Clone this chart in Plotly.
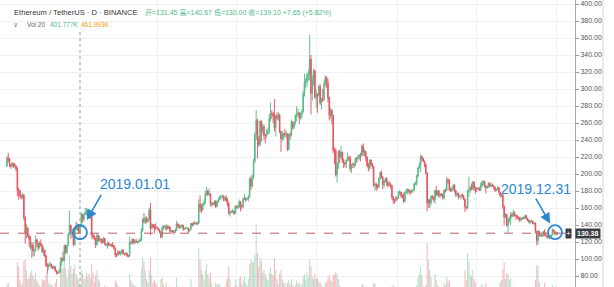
import pandas as pd
import plotly.graph_objects as go

# ---------------- data (ETH/USDT daily, Binance) ----------------
start_date = "2018-11-06"
first_open = 209.5

close = [
    # 2018-11 (6..30)
    218.6, 217.8, 211.6, 209.1, 212.6, 211.1, 209.5, 206.0, 181.0, 180.5, 174.5, 172.4, 175.3, 149.0, 131.0, 136.3, 126.4, 123.2, 113.5, 116.5, 109.5, 110.0, 122.5, 118.5, 113.5,
    # 2018-12
    118.5, 116.5, 108.5, 110.5, 103.5, 92.0, 91.0, 92.5, 93.5, 91.0, 89.0, 91.0, 86.5, 84.0, 84.0, 85.5, 96.5, 101.0, 98.5, 115.5, 108.0, 116.0, 129.0, 140.0, 130.0, 131.0, 117.0, 137.0, 135.0, 140.5, 131.45,
    # 2019-01
    139.10, 152.5, 146.9, 153.0, 154.9, 155.6, 150.9, 150.4, 150.7, 128.3, 127.0, 124.5, 116.5, 127.8, 121.4, 123.7, 122.6, 119.2, 124.0, 117.8, 116.6, 118.0, 116.2, 117.4, 115.9, 115.8, 113.0, 105.0, 104.4, 108.4, 106.1,
    # 2019-02
    107.1, 110.7, 106.2, 105.9, 106.3, 104.0, 103.3, 119.4, 118.6, 123.2, 119.0, 121.3, 120.5, 120.1, 120.7, 122.2, 133.5, 146.5, 144.2, 148.0, 144.0, 146.4, 157.3, 136.5, 140.7, 137.6, 137.3, 136.1,
    # 2019-03
    136.6, 134.7, 131.7, 125.8, 137.2, 137.5, 138.0, 135.3, 138.5, 137.4, 132.4, 133.3, 131.5, 131.5, 134.0, 141.4, 138.1, 137.0, 138.9, 139.8, 135.5, 136.0, 136.1, 136.5, 133.0, 134.6, 141.8, 140.1, 142.4, 142.3, 141.5,
    # 2019-04
    142.1, 164.3, 161.3, 157.4, 164.2, 166.1, 176.8, 180.1, 175.9, 176.5, 164.8, 165.4, 164.3, 167.9, 161.7, 167.7, 169.6, 173.1, 173.1, 173.6, 170.2, 171.8, 168.5, 164.7, 153.8, 155.0, 155.1, 156.5, 153.6, 162.3,
    # 2019-05
    160.3, 161.3, 167.5, 162.5, 161.8, 170.6, 172.1, 170.1, 170.6, 173.2, 194.0, 186.0, 195.6, 215.4, 246.7, 263.0, 241.8, 234.6, 262.2, 251.0, 255.6, 245.3, 245.3, 248.2, 250.6, 264.9, 271.2, 270.6, 268.3, 254.6, 268.4,
    # 2019-06
    265.7, 269.0, 249.8, 241.4, 246.3, 247.3, 245.9, 246.9, 229.1, 246.5, 245.9, 260.9, 255.1, 260.5, 269.1, 269.8, 272.0, 266.4, 270.5, 273.1, 294.6, 307.8, 308.8, 317.3, 317.7, 335.0, 295.0, 311.0, 321.3, 290.2,
    # 2019-07
    293.9, 292.6, 302.9, 283.6, 288.3, 287.3, 306.5, 313.8, 306.9, 289.6, 268.9, 275.4, 268.8, 228.0, 227.4, 199.1, 211.0, 226.5, 220.0, 225.9, 216.4, 212.9, 211.7, 216.5, 219.2, 219.0, 206.3, 211.3, 211.4, 210.4, 218.4,
    # 2019-08
    218.0, 219.3, 222.3, 222.2, 232.6, 225.6, 226.8, 219.7, 209.8, 206.5, 216.6, 211.4, 208.7, 187.2, 187.8, 184.9, 184.4, 194.8, 201.9, 196.6, 187.3, 191.9, 194.5, 190.3, 186.4, 187.7, 186.4, 173.1, 169.2, 168.9, 172.1,
    # 2019-09
    171.8, 178.5, 178.8, 174.6, 173.7, 168.0, 177.9, 180.8, 181.1, 180.0, 178.4, 180.0, 180.6, 188.4, 189.4, 197.5, 207.4, 210.3, 220.3, 218.0, 215.0, 211.5, 200.9, 165.8, 169.8, 166.1, 173.8, 173.5, 169.6, 180.7,
    # 2019-10
    175.5, 180.1, 174.3, 176.6, 176.1, 171.8, 180.9, 180.7, 193.2, 191.6, 181.6, 180.4, 183.0, 186.8, 180.3, 175.3, 177.4, 172.9, 174.0, 175.1, 173.9, 170.3, 161.3, 160.3, 180.0, 180.5, 184.2, 182.7, 190.6, 184.0, 182.6,
    # 2019-11
    182.6, 183.5, 181.2, 185.9, 189.2, 191.1, 186.0, 183.6, 185.5, 189.3, 186.0, 187.1, 186.4, 184.5, 180.4, 182.1, 184.0, 178.4, 174.7, 175.6, 161.9, 149.3, 152.4, 139.5, 146.5, 146.9, 152.2, 150.3, 154.1, 151.4,
    # 2019-12
    150.7, 149.0, 147.2, 145.7, 148.1, 148.6, 147.8, 151.0, 147.8, 145.8, 143.5, 144.8, 144.8, 141.5, 142.2, 132.7, 121.9, 132.5, 128.1, 128.2, 127.1, 132.3, 127.8, 127.8, 125.2, 125.8, 126.3, 128.1, 134.4, 131.5, 129.2,
    # 2020-01 (1..2)
    130.8, 130.38,
]

high = [
    221, 225, 219, 212, 214, 213, 213, 210, 208, 184, 181, 175, 178, 176, 150, 141, 138, 129, 127, 120, 120, 112, 128, 124, 119,
    121, 123, 117, 114, 111, 105, 95, 95, 97, 95, 92, 93, 91, 87, 85, 88, 102, 102, 109, 117, 117, 117, 131, 157, 140, 136, 134, 138, 144, 142, 141,
    140.67, 155, 153, 154, 160, 160, 158, 156, 155, 152, 130, 128, 125, 130, 129, 127, 124, 124, 126, 125, 118, 121, 120, 119, 117, 120, 117, 113, 107, 111, 110,
    109, 112, 111, 107, 108, 108, 105, 126, 121, 124, 124, 123, 124, 121, 123, 125, 136, 148, 154, 150, 150, 148, 160, 166, 142, 141, 141, 142,
    139, 137, 135, 133, 139, 140, 140, 141, 140, 139, 138, 134, 134, 134, 136, 145, 142, 141, 140, 141, 140, 137, 138, 137, 137, 135, 142, 142, 144, 144, 143,
    144, 170, 175, 165, 166, 170, 180, 185, 181, 183, 177, 167, 167, 169, 169, 169, 172, 175, 175, 176, 175, 174, 175, 172, 167, 158, 157, 159, 157, 163,
    163, 164, 170, 168, 164, 172, 177, 172, 172, 175, 196, 198, 199, 218, 249, 275, 265, 245, 263, 263, 259, 258, 247, 253, 255, 271, 284, 275, 273, 288, 270,
    272, 273, 271, 251, 251, 249, 253, 251, 248, 248, 249, 264, 262, 262, 270, 280, 277, 273, 272, 276, 298, 318, 313, 319, 323, 364, 340, 316, 324, 323,
    300, 295, 305, 306, 290, 300, 311, 316, 315, 312, 291, 278, 276, 270, 231, 230, 214, 228, 228, 233, 226, 218, 214, 217, 225, 221, 222, 212, 214, 213, 219,
    220, 223, 223, 225, 235, 236, 229, 227, 221, 213, 217, 217, 213, 209, 190, 190, 188, 196, 203, 204, 197, 193, 196, 196, 191, 192, 190, 187, 174, 171, 174,
    173, 180, 181, 179, 176, 178, 179, 183, 183, 183, 181, 182, 182, 189, 191, 199, 208, 214, 223, 222, 219, 216, 212, 202, 171, 170, 175, 175, 174, 181,
    186, 181, 181, 177, 177, 177, 182, 183, 197, 195, 194, 184, 185, 188, 188, 181, 178, 178, 175, 176, 177, 176, 171, 162, 182, 197, 186, 189, 192, 191, 185,
    184, 185, 184, 190, 192, 193, 192, 187, 186, 190, 190, 188, 189, 187, 185, 183, 186, 184, 179, 177, 176, 163, 154, 153, 149, 150, 155, 155, 158, 156,
    152, 152, 150, 150, 149, 149, 150, 152, 152, 148, 146, 146, 146, 145, 143, 143, 133, 134, 133, 129, 129, 133, 135, 130, 128, 128, 127, 129, 136, 134, 133,
    132, 131.5,
]

low = [
    208, 214, 208, 206, 208, 207, 208, 203, 174, 170, 172, 170, 171, 146, 118, 124, 126, 115, 111, 101, 103, 103, 109, 114, 110,
    112, 115, 107, 104, 102, 91, 83, 87, 91, 89, 88, 88, 85, 82, 82, 83, 84, 92, 97, 98, 106, 106, 116, 128, 124, 125, 115, 116, 134, 133, 130,
    130.00, 137, 143, 144, 152, 151, 149, 148, 147, 124, 123, 122, 113, 116, 120, 121, 118, 118, 119, 116, 115, 112, 115, 115, 114, 114, 111, 102, 102, 104, 105,
    104, 106, 105, 104, 105, 102, 102, 103, 117, 117, 118, 117, 119, 118, 119, 120, 121, 132, 142, 141, 142, 143, 145, 128, 135, 136, 130, 134,
    135, 133, 130, 124, 125, 134, 136, 133, 135, 135, 131, 131, 130, 129, 131, 133, 137, 135, 136, 137, 133, 134, 135, 135, 131, 132, 134, 138, 139, 141, 140,
    140, 141, 155, 154, 157, 162, 165, 174, 174, 174, 162, 161, 163, 163, 160, 161, 166, 169, 170, 172, 168, 168, 167, 162, 152, 150, 154, 154, 152, 153,
    159, 159, 160, 156, 159, 160, 169, 167, 169, 168, 172, 181, 184, 194, 213, 240, 218, 232, 233, 238, 247, 240, 236, 242, 246, 247, 262, 265, 260, 250, 244,
    263, 263, 248, 226, 238, 240, 243, 242, 227, 228, 240, 244, 252, 253, 258, 262, 267, 259, 264, 265, 272, 291, 301, 303, 310, 310, 270, 286, 304, 288,
    278, 272, 291, 281, 276, 285, 286, 303, 301, 284, 263, 265, 259, 225, 212, 197, 190, 206, 213, 218, 213, 207, 208, 207, 215, 215, 203, 201, 207, 207, 209,
    213, 215, 217, 215, 221, 221, 221, 215, 208, 203, 205, 209, 206, 185, 181, 180, 182, 184, 193, 195, 182, 184, 190, 186, 184, 186, 183, 170, 165, 165, 167,
    169, 171, 175, 172, 171, 166, 167, 177, 176, 177, 175, 177, 178, 180, 187, 186, 196, 206, 202, 215, 214, 208, 200, 156, 160, 160, 163, 170, 167, 165,
    174, 174, 172, 172, 174, 170, 170, 178, 180, 188, 180, 179, 179, 181, 178, 173, 174, 170, 172, 170, 172, 169, 155, 158, 159, 173, 178, 181, 181, 180, 177,
    179, 181, 180, 180, 184, 187, 184, 177, 183, 184, 184, 184, 185, 182, 179, 180, 181, 176, 172, 173, 159, 140, 148, 138, 131, 143, 140, 149, 150, 150,
    146, 147, 146, 143, 145, 146, 147, 147, 146, 144, 142, 141, 143, 141, 140, 130, 116, 117, 126, 126, 126, 127, 127, 126, 124, 124, 123, 126, 128, 130, 128,
    128, 128.5,
]

# daily volume, thousands of ETH
volume = [
    520, 560, 480, 420, 380, 400, 430, 460, 880, 820, 600, 520, 560, 900, 930, 760, 620, 640, 720, 760, 680, 620, 720, 600, 560,
    520, 500, 620, 600, 600, 700, 720, 560, 520, 540, 500, 480, 560, 620, 480, 500, 820, 760, 800, 960, 800, 640, 760, 1000, 820, 700, 780, 860, 700, 640, 600,
    401.777, 760, 700, 620, 640, 720, 660, 700, 640, 860, 720, 560, 680, 760, 620, 580, 480, 460, 440, 520, 470, 500, 460, 440, 420, 400, 440, 600, 560, 520, 500,
    480, 440, 440, 400, 380, 440, 420, 700, 600, 560, 520, 520, 500, 460, 440, 460, 780, 960, 900, 760, 620, 560, 760, 960, 680, 560, 600, 560,
    520, 460, 440, 620, 640, 540, 500, 560, 480, 440, 500, 460, 440, 460, 480, 640, 500, 480, 460, 480, 500, 440, 400, 380, 480, 460, 620, 500, 480, 440, 420,
    480, 1110, 920, 760, 700, 620, 760, 860, 700, 640, 720, 560, 440, 440, 560, 540, 520, 540, 460, 420, 460, 500, 580, 640, 820, 620, 460, 460, 500, 620,
    520, 480, 640, 660, 520, 600, 660, 560, 520, 620, 860, 920, 880, 900, 1000, 1480, 1030, 820, 960, 900, 720, 760, 700, 640, 600, 720, 800, 700, 680, 950, 760,
    620, 540, 700, 760, 620, 560, 560, 480, 560, 600, 540, 620, 520, 500, 520, 600, 540, 560, 500, 540, 660, 700, 600, 730, 640, 920, 810, 660, 620, 700,
    620, 640, 580, 560, 520, 480, 500, 560, 580, 640, 680, 600, 580, 700, 680, 730, 700, 620, 520, 480, 460, 470, 440, 450, 440, 400, 480, 440, 420, 410, 460,
    440, 440, 420, 450, 540, 520, 460, 440, 470, 430, 400, 400, 430, 560, 540, 480, 380, 400, 450, 420, 470, 430, 400, 360, 360, 390, 400, 500, 520, 420, 380,
    340, 420, 440, 400, 380, 480, 420, 380, 380, 380, 380, 360, 350, 480, 400, 520, 650, 700, 810, 680, 500, 460, 520, 1190, 920, 760, 650, 480, 500, 700,
    600, 520, 500, 440, 360, 400, 560, 520, 650, 580, 600, 420, 400, 460, 460, 480, 400, 460, 360, 360, 400, 480, 760, 600, 1030, 900, 700, 660, 760, 620, 560,
    460, 400, 400, 500, 540, 480, 480, 560, 380, 420, 420, 420, 400, 420, 460, 340, 360, 460, 560, 600, 780, 890, 620, 710, 700, 600, 640, 480, 500, 420,
    440, 400, 420, 440, 420, 400, 360, 380, 420, 400, 420, 400, 380, 380, 360, 600, 840, 820, 560, 460, 380, 420, 560, 460, 420, 400, 460, 400, 520, 480, 500,
    420, 400,
]

header_title = "Ethereum / TetherUS · D · BINANCE"
vol_ma_label = "461.993K"
marked_days = ["2019-01-01", "2019-12-31"]
marked_labels = ["2019.01.01", "2019.12.31"]
price_ticks = list(range(80, 401, 20))

# ---------------- build ----------------
n = len(close)
assert len(high) == n and len(low) == n and len(volume) == n, (n, len(high), len(low), len(volume))
dates = pd.date_range(start=start_date, periods=n, freq="D")
opens = [first_open] + close[:-1]
df = pd.DataFrame({"open": opens, "high": high, "low": low, "close": close, "vol": volume}, index=dates)

UP = "#53b987"
DN = "#eb4d5c"
BLUE = "#2b87d3"
FONT = "Liberation Sans, Arial, Noto Sans CJK SC, sans-serif"

vol_colors = ["rgba(83,185,135,0.45)" if c >= o else "rgba(235,77,92,0.42)"
              for o, c in zip(df["open"], df["close"])]

fig = go.Figure()
fig.add_trace(go.Bar(x=dates, y=df["vol"], marker_color=vol_colors, marker_line_width=0,
                     yaxis="y2", hoverinfo="skip", showlegend=False))
fig.add_trace(go.Candlestick(
    x=dates, open=df["open"], high=df["high"], low=df["low"], close=df["close"],
    increasing=dict(line=dict(color=UP, width=0.9), fillcolor=UP),
    decreasing=dict(line=dict(color=DN, width=0.9), fillcolor=DN),
    whiskerwidth=0, showlegend=False))

W, H = 614, 287
PLOT_W = 575
x_range = ["2018-10-31 16:48", "2020-01-15 07:12"]
y_range = [67.06, 404.7]

fig.update_layout(
    width=W, height=H,
    margin=dict(l=0, r=W - PLOT_W, t=0, b=0),
    paper_bgcolor="white", plot_bgcolor="white",
    showlegend=False,
    bargap=0.25,
    font=dict(family=FONT),
    xaxis=dict(type="date", range=x_range, rangeslider=dict(visible=False),
               showticklabels=False, ticks="",
               tickvals=["2019-03-01", "2019-05-01", "2019-07-01", "2019-09-01", "2019-11-01", "2020-01-01"],
               showgrid=True, gridcolor="#eff1f5", gridwidth=1, zeroline=False, showline=False),
    yaxis=dict(side="right", range=y_range, tickvals=price_ticks, tickformat=".2f",
               showgrid=True, gridcolor="#eff1f5", gridwidth=1, zeroline=False,
               ticks="outside", ticklen=3, tickcolor="#9a9a9a",
               showline=True, linecolor="#a8abb3", linewidth=1,
               tickfont=dict(size=7, color="#555555", family=FONT)),
    yaxis2=dict(overlaying="y", range=[492, 5048], visible=False, showgrid=False),
)

# crosshair vertical dotted line at 2019-01-01
fig.add_shape(type="line", xref="x", yref="paper", x0=marked_days[0], x1=marked_days[0],
              y0=0, y1=0.9, line=dict(color="#9598a1", width=1, dash="dot"))
# last price dashed line
last = close[-1]
fig.add_shape(type="line", xref="paper", yref="y", x0=0, x1=1, y0=last, y1=last,
              line=dict(color="#b86060", width=1, dash="dash"))
# right border line
fig.add_shape(type="line", xref="paper", yref="paper", x0=603 / PLOT_W, x1=603 / PLOT_W,
              y0=0, y1=1, line=dict(color="#d6d6d6", width=1))

# price label + crosshair plus box
fig.add_annotation(xref="paper", yref="y", x=1.0, y=last, text=f"<b>{last:.2f}</b>",
                   showarrow=False, xanchor="left", yanchor="middle",
                   bgcolor="#3a3d45", font=dict(size=7, color="white", family=FONT), borderpad=1)
fig.add_annotation(xref="paper", yref="y", x=568.5 / PLOT_W, y=last, text="+",
                   showarrow=False, xanchor="center", yanchor="middle",
                   bgcolor="#3a3d45", font=dict(size=8, color="white", family=FONT), borderpad=0)

# circles and arrows marking the two days
circle_specs = [(marked_days[0], df.loc[marked_days[0], "open"], 22, -39, 14),
                (marked_days[1], df.loc[marked_days[1], "open"], -20, -35, 10)]
for d, p, ax, ay, so in circle_specs:
    fig.add_shape(type="circle", xref="x", yref="y", xsizemode="pixel", ysizemode="pixel",
                  xanchor=d, yanchor=p, x0=-7, x1=7, y0=-7, y1=7,
                  line=dict(color=BLUE, width=1.8))
    fig.add_annotation(xref="x", yref="y", x=d, y=p, ax=ax, ay=ay, text="",
                       showarrow=True, arrowhead=2, arrowsize=1.3, arrowwidth=1.6,
                       arrowcolor=BLUE, standoff=so)

label_pos = [(135, 184), (536, 189)]
for lab, (px, py) in zip(marked_labels, label_pos):
    fig.add_annotation(xref="paper", yref="paper", x=px / PLOT_W, y=1 - py / H, text=lab,
                       showarrow=False, xanchor="center", yanchor="middle",
                       font=dict(size=14, color=BLUE, family=FONT))

# header legend
j = df.loc[marked_days[0]]
chg = j["close"] - j["open"]
pct = chg / j["open"] * 100
ohlc_txt = (f"开={j['open']:.2f} 高={j['high']:.2f} 低={j['low']:.2f} 收={j['close']:.2f} "
            f"+{chg:.2f} (+{pct:.2f}%)")
fig.add_annotation(xref="paper", yref="paper", x=12 / PLOT_W, y=1 - 13 / H, text=header_title,
                   showarrow=False, xanchor="left", yanchor="middle",
                   font=dict(size=7.6, color="#333333", family=FONT))
fig.add_annotation(xref="paper", yref="paper", x=143 / PLOT_W, y=1 - 13 / H, text=ohlc_txt,
                   showarrow=False, xanchor="left", yanchor="middle",
                   font=dict(size=7, color=UP, family=FONT))
fig.add_annotation(xref="paper", yref="paper", x=12 / PLOT_W, y=1 - 24.5 / H, text="v",
                   showarrow=False, xanchor="left", yanchor="middle",
                   font=dict(size=6.5, color="#666666", family=FONT))
fig.add_annotation(xref="paper", yref="paper", x=25 / PLOT_W, y=1 - 24.5 / H, text="Vol 20",
                   showarrow=False, xanchor="left", yanchor="middle",
                   font=dict(size=6.5, color="#666666", family=FONT))
fig.add_annotation(xref="paper", yref="paper", x=48 / PLOT_W, y=1 - 24.5 / H,
                   text=f"{j['vol']:.3f}K", showarrow=False, xanchor="left", yanchor="middle",
                   font=dict(size=6.5, color=UP, family=FONT))
fig.add_annotation(xref="paper", yref="paper", x=79 / PLOT_W, y=1 - 24.5 / H, text=vol_ma_label,
                   showarrow=False, xanchor="left", yanchor="middle",
                   font=dict(size=6.5, color="#ff9800", family=FONT))

fig.write_html("out.html")
